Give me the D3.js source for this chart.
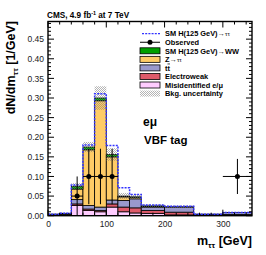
<!DOCTYPE html>
<html><head><meta charset="utf-8">
<script src="https://cdn.jsdelivr.net/npm/d3@7"></script>
<style>body{margin:0;background:#fff}svg{display:block}text{font-family:"Liberation Sans",Arial,sans-serif}</style>
</head><body><svg id="c" width="266" height="255"></svg>
<script>
const edges = [0,20,40,60,80,100,120,140,160,200,250,300,350];
const misid = [0.001,0.002,0.026,0.013,0.010,0.022,0.010,0.007,0.006,0.002,0.001,0.001];
const ewk   = [0.001,0.001,0.004,0.004,0.003,0.008,0.012,0.013,0.007,0.007,0.001,0.002];
const ttbar = [0.001,0.001,0.011,0.009,0.009,0.010,0.017,0.023,0.009,0.013,0.002,0.005];
const ztt   = [0.001,0.001,0.027,0.142,0.271,0.110,0.009,0.004,0.002,0.001,0.000,0.000];
const hww   = [0.000,0.001,0.007,0.007,0.007,0.006,0.002,0.001,0.001,0.000,0.000,0.000];
const bkgUnc= [0.001,0.002,0.008,0.013,0.030,0.016,0.008,0.007,0.004,0.003,0.001,0.001];
const htt   = [0.000,0.000,0.003,0.005,0.011,0.023,0.021,0.006,0.002,0.001,0.000,0.000];
const obsVal= [0,0,0.05,0.10,0.10,0.10,0,0,0,0,0,0.10];
const obsErr= [0,0,0.05,0.0707,0.0707,0.0707,0,0,0,0,0,0.0447];
const yTicks = [0,0.05,0.10,0.15,0.20,0.25,0.30,0.35,0.40,0.45];
const xTicks = [0,100,200,300];

const layers = [
  {name:"Misidentified e/\u03bc", vals:misid, color:"#FFCCFF"},
  {name:"Electroweak", vals:ewk, color:"#DE5A6A"},
  {name:"tt", vals:ttbar, color:"#9999CC"},
  {name:"Z", vals:ztt, color:"#FFCC66"},
  {name:"WW", vals:hww, color:"#00A000"}
];

const svg = d3.select("#c");
const L=48,R=252,T=21.5,B=215.7;
const x = d3.scaleLinear().domain([0,350]).range([L,R]);
const y = d3.scaleLinear().domain([0,0.495]).range([B,T]);

const defs = svg.append("defs");
const pat = defs.append("pattern").attr("id","hatch").attr("patternUnits","userSpaceOnUse").attr("width",2).attr("height",2);
pat.append("rect").attr("x",0).attr("y",0).attr("width",1).attr("height",1).attr("fill","#777");
pat.append("rect").attr("x",1).attr("y",1).attr("width",1).attr("height",1).attr("fill","#777");
defs.append("clipPath").attr("id","clip").append("rect").attr("x",L).attr("y",T).attr("width",R-L).attr("height",B-T);

const nb = edges.length-1;
const bins = d3.range(nb);
const cum = bins.map(()=>0);
const g = svg.append("g").attr("clip-path","url(#clip)");
layers.forEach(ly=>{
  const base = cum.slice();
  bins.forEach(i=>cum[i]+=ly.vals[i]);
  g.selectAll(null).data(bins).enter().append("rect")
    .attr("x",i=>x(edges[i])).attr("width",i=>x(edges[i+1])-x(edges[i]))
    .attr("y",i=>y(cum[i])).attr("height",i=>Math.max(0,y(base[i])-y(cum[i])))
    .attr("fill",ly.color).attr("stroke","#000").attr("stroke-width",0.8);
});
const total = cum.slice();
g.selectAll(null).data(bins).enter().append("rect")
  .attr("x",i=>x(edges[i])).attr("width",i=>x(edges[i+1])-x(edges[i]))
  .attr("y",i=>y(total[i]+bkgUnc[i])).attr("height",i=>y(total[i]-bkgUnc[i])-y(total[i]+bkgUnc[i]))
  .attr("fill","url(#hatch)").attr("opacity",0.55);
let p = "";
bins.forEach(i=>{
  const yy = y(total[i]+htt[i]);
  p += (i===0?"M":"L")+x(edges[i])+","+yy+"L"+x(edges[i+1])+","+yy;
});
g.append("path").attr("d",p).attr("fill","none").attr("stroke","#3333FF").attr("stroke-width",1.5).attr("stroke-dasharray","2,1.2");

const obs = bins.filter(i=>obsVal[i]>0);
const og = svg.append("g");
obs.forEach(i=>{
  const cx = x((edges[i]+edges[i+1])/2), cy=y(obsVal[i]);
  og.append("line").attr("x1",x(edges[i])).attr("x2",x(edges[i+1])).attr("y1",cy).attr("y2",cy).attr("stroke","#000").attr("stroke-width",1);
  og.append("line").attr("x1",cx).attr("x2",cx).attr("y1",y(obsVal[i]+obsErr[i])).attr("y2",y(obsVal[i]-obsErr[i])).attr("stroke","#000").attr("stroke-width",1);
  og.append("circle").attr("cx",cx).attr("cy",cy).attr("r",2.5).attr("fill","#000");
});

const ax = svg.append("g").attr("stroke","#000").attr("stroke-width",1);
d3.range(0,0.4951,0.01).forEach(v=>{
  const major = Math.abs(Math.round(v*20)-v*20)<1e-6;
  const len = major?6:3;
  ax.append("line").attr("x1",L).attr("x2",L+len).attr("y1",y(v)).attr("y2",y(v));
  ax.append("line").attr("x1",R).attr("x2",R-len).attr("y1",y(v)).attr("y2",y(v));
});
d3.range(0,351,20).forEach(v=>{
  const len = (v%100===0)?6:3;
  ax.append("line").attr("x1",x(v)).attr("x2",x(v)).attr("y1",B).attr("y2",B-len);
  ax.append("line").attr("x1",x(v)).attr("x2",x(v)).attr("y1",T).attr("y2",T+len);
});
svg.append("rect").attr("x",L).attr("y",T).attr("width",R-L).attr("height",B-T).attr("fill","none").attr("stroke","#000").attr("stroke-width",1.4);

const yAxis = d3.axisLeft(y).tickValues(yTicks).tickFormat(d3.format(".2f")).tickSize(0).tickPadding(4);
const ya = svg.append("g").attr("transform",`translate(${L},0)`).call(yAxis);
ya.select(".domain").remove();
ya.selectAll("text").attr("font-size",8.5).attr("fill","#222").attr("font-family","Liberation Sans, Arial, sans-serif");
const xAxis = d3.axisBottom(x).tickValues(xTicks).tickSize(0).tickPadding(5);
const xa = svg.append("g").attr("transform",`translate(0,${B})`).call(xAxis);
xa.select(".domain").remove();
xa.selectAll("text").attr("font-size",8.5).attr("fill","#222").attr("font-family","Liberation Sans, Arial, sans-serif");

const yl = svg.append("text").attr("transform","translate(15,21) rotate(-90)").attr("text-anchor","end")
  .attr("font-size",12.5).attr("font-weight","bold");
yl.append("tspan").text("dN/dm");
yl.append("tspan").attr("font-size",8).attr("dy",2.5).text("\u03c4\u03c4");
yl.append("tspan").attr("dy",-2.5).text(" [1/GeV]");
const xl = svg.append("text").attr("x",252).attr("y",245).attr("text-anchor","end").attr("font-size",12.5).attr("font-weight","bold");
xl.append("tspan").text("m");
xl.append("tspan").attr("font-size",8).attr("dy",2.5).text("\u03c4\u03c4");
xl.append("tspan").attr("dy",-2.5).text(" [GeV]");

const hd = svg.append("text").attr("x",47).attr("y",17.5).attr("font-size",8.2).attr("font-weight","bold");
hd.append("tspan").text("CMS, 4.9 fb");
hd.append("tspan").attr("font-size",5.5).attr("dy",-3).text("-1");
hd.append("tspan").attr("dy",3).text(" at 7 TeV");

svg.append("text").attr("x",143).attr("y",125.5).attr("font-size",12).attr("font-weight","bold").text("e\u03bc");
svg.append("text").attr("x",144).attr("y",144).attr("font-size",11.5).attr("font-weight","bold").text("VBF tag");

const lg = svg.append("g").attr("font-size",7.4).attr("font-weight","bold");
const ly0=33.7, dy=8.55, sx=140, sw=20, tx=165;
const rows = [
  {type:"dash"},{type:"obs"},
  {type:"box",color:"#00A000"},{type:"box",color:"#FFCC66"},{type:"box",color:"#9999CC"},
  {type:"box",color:"#DE5A6A"},{type:"box",color:"#FFCCFF"},{type:"hatch"}
];
rows.forEach((r,k)=>{
  const cy = ly0+k*dy;
  if(r.type==="dash") lg.append("line").attr("x1",sx+2).attr("x2",sx+sw).attr("y1",cy).attr("y2",cy).attr("stroke","#3333FF").attr("stroke-width",1.3).attr("stroke-dasharray","2,1.2");
  if(r.type==="obs"){ lg.append("line").attr("x1",sx).attr("x2",sx+sw).attr("y1",cy).attr("y2",cy).attr("stroke","#000").attr("stroke-width",1);
    lg.append("circle").attr("cx",sx+sw/2).attr("cy",cy).attr("r",2.5).attr("fill","#000"); }
  if(r.type==="box") lg.append("rect").attr("x",sx).attr("y",cy-3).attr("width",sw).attr("height",6).attr("fill",r.color).attr("stroke","#000").attr("stroke-width",0.8);
  if(r.type==="hatch") lg.append("rect").attr("x",sx).attr("y",cy-3).attr("width",sw).attr("height",6).attr("fill","url(#hatch)").attr("opacity",0.55);
});
function lt(k){ return lg.append("text").attr("x",tx).attr("y",ly0+k*dy+2.7); }
let t;
t=lt(0); t.append("tspan").text("SM H(125 GeV)\u2192"); t.append("tspan").attr("font-size",6.2).attr("font-weight","normal").text("\u03c4\u03c4");
lt(1).text("Observed");
lt(2).text("SM H(125 GeV)\u2192WW");
t=lt(3); t.append("tspan").text("Z\u2192"); t.append("tspan").attr("font-size",6.2).attr("font-weight","normal").text("\u03c4\u03c4");
t=lt(4); t.append("tspan").text("t"); t.append("tspan").attr("text-decoration","overline").text("t");
lt(5).text("Electroweak");
lt(6).text("Misidentified e/\u03bc");
lt(7).text("Bkg. uncertainty");
</script></body></html>
